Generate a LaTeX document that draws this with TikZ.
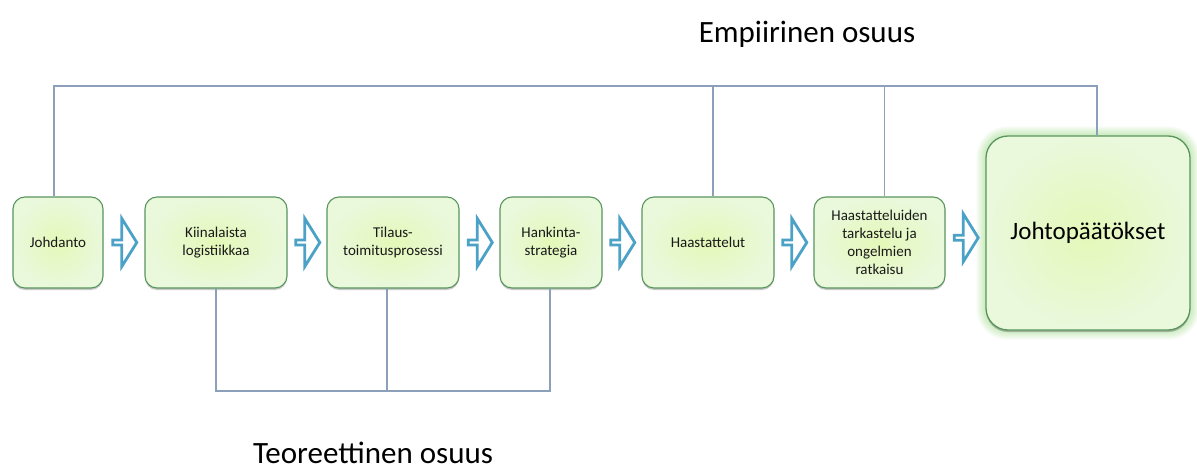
\documentclass[tikz,border=0pt]{standalone}
\usepackage{fontspec}
\setmainfont{Carlito}
\usetikzlibrary{shapes.arrows,shadows,backgrounds,calc}

\definecolor{boxedge}{RGB}{88,150,94}
\definecolor{boxin}{RGB}{228,248,184}
\definecolor{boxout}{RGB}{234,248,220}
\definecolor{linkc}{RGB}{140,160,188}
\definecolor{arrowc}{RGB}{75,162,198}
\definecolor{glowc}{RGB}{140,214,110}

\tikzset{
  stage/.style={draw=boxedge, line width=1.1pt, rounded corners=12pt,
    inner color=boxin, outer color=boxout, align=center,
    font=\fontsize{15}{18}\selectfont, text=black!90, inner sep=2pt,
    drop shadow={shadow xshift=0pt, shadow yshift=-2pt, opacity=0.3, fill=black!70}},
  finalstage/.style={stage, rounded corners=22pt, line width=1.3pt,
    font=\fontsize{25}{30}\selectfont, text=black,
    drop shadow={shadow xshift=0pt, shadow yshift=-2pt, opacity=0.15, fill=black!50}},
  link/.style={draw=linkc, line width=1.3pt},
  flow/.style={single arrow, draw=arrowc, line width=2.8pt, fill=white,
    minimum width=48pt, minimum height=24pt, single arrow head extend=12pt,
    single arrow tip angle=116, inner sep=0pt},
  part/.style={font=\fontsize{31}{36}\selectfont, anchor=base, text=black, inner sep=0pt},
}

\begin{document}
\begin{tikzpicture}[x=1pt, y=-1pt]
  \useasboundingbox (0,0) rectangle (1197,471);
  \begin{scope}[on background layer]
    \fill[white] (0,0) rectangle (1197,471);
  \end{scope}

  % process stages
  \node[stage, minimum width=90pt,  minimum height=91pt] (b1) at (58,242.5)  {Johdanto};
  \node[stage, minimum width=142pt, minimum height=91pt] (b2) at (216,242.5) {Kiinalaista\\logistiikkaa};
  \node[stage, minimum width=132pt, minimum height=91pt] (b3) at (393,242.5) {Tilaus-\\toimitusprosessi};
  \node[stage, minimum width=102pt, minimum height=91pt] (b4) at (551,242.5) {Hankinta-\\strategia};
  \node[stage, minimum width=132pt, minimum height=91pt] (b5) at (708,242.5) {Haastattelut};
  \node[stage, minimum width=131pt, minimum height=91pt] (b6) at (879.5,242.5) {Haastatteluiden\\tarkastelu ja\\ongelmien\\ratkaisu};
  \node[finalstage, minimum width=204pt, minimum height=194pt] (big) at (1088,233) {Johtopäätökset};

  % soft glow round the conclusion box
  \begin{scope}[on background layer]
    \foreach \g in {1,...,9}
      \fill[glowc, opacity=0.05]
        ([shift={(-\g pt,\g pt)}]big.north west) [rounded corners={22pt+\g pt}]
        rectangle ([shift={(\g pt,-\g pt)}]big.south east);
  \end{scope}

  % flow arrows between stages
  \node[flow] (a1) at ($(b1.east)!0.5!(b2.west)$) {};
  \node[flow] (a2) at ($(b2.east)!0.5!(b3.west)$) {};
  \node[flow] (a3) at ($(b3.east)!0.5!(b4.west)$) {};
  \node[flow] (a4) at ($(b4.east)!0.5!(b5.west)$) {};
  \node[flow] (a5) at ($(b5.east)!0.5!(b6.west)$) {};
  \node[flow] (a6) at ($(b6.east)!0.5!(big.west)$) {};

  % bracket over the empirical part
  \coordinate (top) at (0,86);
  \coordinate (e1) at ([xshift=-4pt]b1.north);
  \coordinate (e5) at ([xshift=5pt]b5.north);
  \coordinate (e6) at ([xshift=5pt]b6.north);
  \coordinate (e7) at ([xshift=9pt]big.north);
  \draw[link] (e1) -- (e1 |- top) -- (e7 |- top) -- (e7);
  \draw[link] (e5) -- (e5 |- top);
  \draw[link] (e6) -- (e6 |- top);

  % bracket under the theoretical part
  \coordinate (bot) at (0,391);
  \coordinate (t2) at (b2.south);
  \coordinate (t3) at ([xshift=-6pt]b3.south);
  \coordinate (t4) at ([xshift=-1pt]b4.south);
  \draw[link] (t2) -- (t2 |- bot) -- (t4 |- bot) -- (t4);
  \draw[link] (t3) -- (t3 |- bot);

  % part titles
  \node[part] (emp) at (807,42) {Empiirinen osuus};
  \node[part] (teo) at (373,463) {Teoreettinen osuus};
\end{tikzpicture}
\end{document}
